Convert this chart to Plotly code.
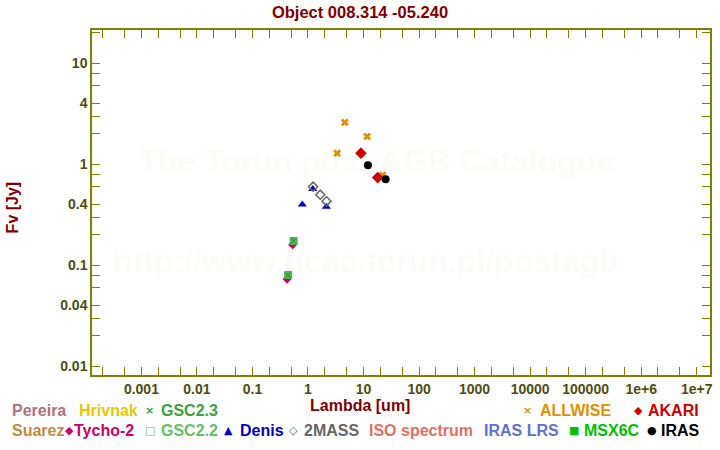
import plotly.graph_objects as go

# ---- data ----
allwise_wl = [3.35, 4.6, 11.6, 22.1]
allwise_f = [1.29, 2.6, 1.89, 0.78]
akari_wl = [9.0, 18.0]
akari_f = [1.29, 0.74]
iras_wl = [12.0, 25.0]
iras_f = [0.98, 0.71]
twomass_wl = [1.235, 1.662, 2.159]
twomass_f = [0.60, 0.50, 0.43]
denis_wl = [0.79, 1.22, 2.14]
denis_f = [0.40, 0.57, 0.38]
gsc22_wl = [0.44, 0.55]
gsc22_f = [0.080, 0.174]
gsc23_wl = [0.44, 0.55]
gsc23_f = [0.080, 0.174]
tycho_wl = [0.42, 0.53]
tycho_f = [0.073, 0.16]

x_major = [0.001, 0.01, 0.1, 1, 10, 100, 1000, 10000, 100000, 1e6, 1e7]
x_labels = ["0.001", "0.01", "0.1", "1", "10", "100", "1000", "10000", "100000", "1e+6", "1e+7"]
y_major = [0.01, 0.04, 0.1, 0.4, 1, 4, 10]
y_labels = ["0.01", "0.04", "0.1", "0.4", "1", "4", "10"]
y_minor = [0.02, 0.03, 0.06, 0.08, 0.2, 0.3, 0.6, 0.8, 2, 3, 6, 8, 20]
x_minor = [m * 10 ** k for k in range(-4, 8) for m in (2, 5)]

watermark_text = ["The Torun post-AGB Catalogue", "http://www.ncac.torun.pl/postagb"]
watermark_x = [17.0, 11.0]
watermark_y = [1.0, 0.103]

legend_names = ["Pereira", "Hrivnak", "GSC2.3", "ALLWISE", "AKARI",
                "Suarez", "Tycho-2", "GSC2.2", "Denis", "2MASS",
                "ISO spectrum", "IRAS LRS", "MSX6C", "IRAS"]
legend_symbols = ["", "", "×", "×", "◆", "", "◆", "□", "▲", "◇", "", "", "■", "●"]

AX = "#808000"
TICKC = "#4d4d10"
DARKRED = "#800000"
FONT = "Liberation Sans, Arial, sans-serif"

fig = go.Figure()

# watermark as a text trace (below markers)
fig.add_trace(go.Scatter(
    x=watermark_x, y=watermark_y, mode="text", text=watermark_text,
    textposition="middle center",
    textfont=dict(size=32, color="#fdfbf7", weight="bold", family=FONT),
    showlegend=False, hoverinfo="skip"))

def add(x, y, sym, color, size, lw=0, lc=None):
    fig.add_trace(go.Scatter(
        x=x, y=y, mode="markers",
        marker=dict(symbol=sym, color=color, size=size,
                    line=dict(width=lw, color=lc if lc else color)),
        showlegend=False, hoverinfo="skip"))

add(tycho_wl, tycho_f, "diamond", "#cc0066", 7)
add(gsc22_wl, gsc22_f, "square", "#5cbf5c", 7, 1, "#4aa84a")
add(gsc23_wl, gsc23_f, "x-thin-open", "#3a9a3a", 5, 1.5)
add(denis_wl, denis_f, "triangle-up", "#0000c0", 8)
add(twomass_wl, twomass_f, "diamond-open", "#666666", 7, 1.5)
add(allwise_wl, allwise_f, "x", "#e09000", 7)
add(akari_wl, akari_f, "diamond", "#cc0000", 9)
add(iras_wl, iras_f, "circle", "#000000", 8)

fig.update_layout(
    width=720, height=450,
    margin=dict(l=92, r=7, t=30, b=75),
    paper_bgcolor="white", plot_bgcolor="white",
    font=dict(family=FONT),
    title=dict(text="Object 008.314 -05.240", x=0.5, xanchor="center",
               y=1 - 12 / 450, yanchor="middle",
               font=dict(size=16.5, color=DARKRED, weight="bold", family=FONT)),
    xaxis=dict(type="log", range=[-3.89, 7.24], showgrid=False, zeroline=False,
               showline=True, linecolor=AX, linewidth=1.5, mirror="ticks",
               ticks="inside", ticklen=8, tickcolor=AX, tickwidth=1,
               tickmode="array", tickvals=x_major, ticktext=x_labels,
               tickfont=dict(size=14, color=TICKC, weight="bold", family=FONT),
               minor=dict(tickmode="array", tickvals=x_minor, ticks="inside",
                          ticklen=8, tickcolor=AX, tickwidth=1, showgrid=False)),
    yaxis=dict(type="log", range=[-2.086, 1.33], showgrid=False, zeroline=False,
               showline=True, linecolor=AX, linewidth=1.5, mirror="ticks",
               ticks="inside", ticklen=8, tickcolor=AX, tickwidth=1,
               tickmode="array", tickvals=y_major, ticktext=y_labels,
               tickfont=dict(size=14, color=TICKC, weight="bold", family=FONT),
               minor=dict(tickmode="array", tickvals=y_minor, ticks="inside",
                          ticklen=8, tickcolor=AX, tickwidth=1, showgrid=False)),
)

# axis titles
fig.add_annotation(text="Fv [Jy]", xref="paper", yref="paper",
                   x=(13 - 92) / 621, y=(375 - 207) / 345, textangle=-90,
                   xanchor="center", yanchor="middle", showarrow=False,
                   font=dict(size=16, color=DARKRED, weight="bold", family=FONT))
fig.add_annotation(text="Lambda [um]", xref="paper", yref="paper",
                   x=(361 - 92) / 621, y=(375 - 405) / 345,
                   xanchor="center", yanchor="middle", showarrow=False,
                   font=dict(size=16, color=DARKRED, weight="bold", family=FONT))

# legend-like labels: (colour, symbol centre x, text left x, row y)
legend_layout = [
    ("#b07080", None, 10, 410),
    ("#e6c800", None, 77, 410),
    ("#40a040", 150, 159, 410),
    ("#e09000", 530, 540, 410),
    ("#cc0000", 641, 649, 410),
    ("#c08a40", None, 10, 430),
    ("#cc0066", 69, 72, 430),
    ("#66c066", 150, 159, 430),
    ("#0000c0", 229, 239, 430),
    ("#666666", 294, 303, 430),
    ("#e07060", None, 368, 430),
    ("#6070d0", None, 484, 430),
    ("#00c000", 576, 584, 430),
    ("#000000", 655, 662, 430),
]
for name, sym, (col, sx, tx, py) in zip(legend_names, legend_symbols, legend_layout):
    if sym and sx is not None:
        fig.add_annotation(text=sym, xref="paper", yref="paper",
                           x=(sx - 92) / 621, y=(375 - py) / 345,
                           xanchor="center", yanchor="middle", showarrow=False,
                           font=dict(size=11, color=col, weight="bold", family="DejaVu Sans"))
    fig.add_annotation(text=name, xref="paper", yref="paper",
                       x=(tx - 92) / 621, y=(375 - py) / 345,
                       xanchor="left", yanchor="middle", showarrow=False,
                       font=dict(size=16, color=col, weight="bold", family=FONT))

fig.write_html("out.html")
